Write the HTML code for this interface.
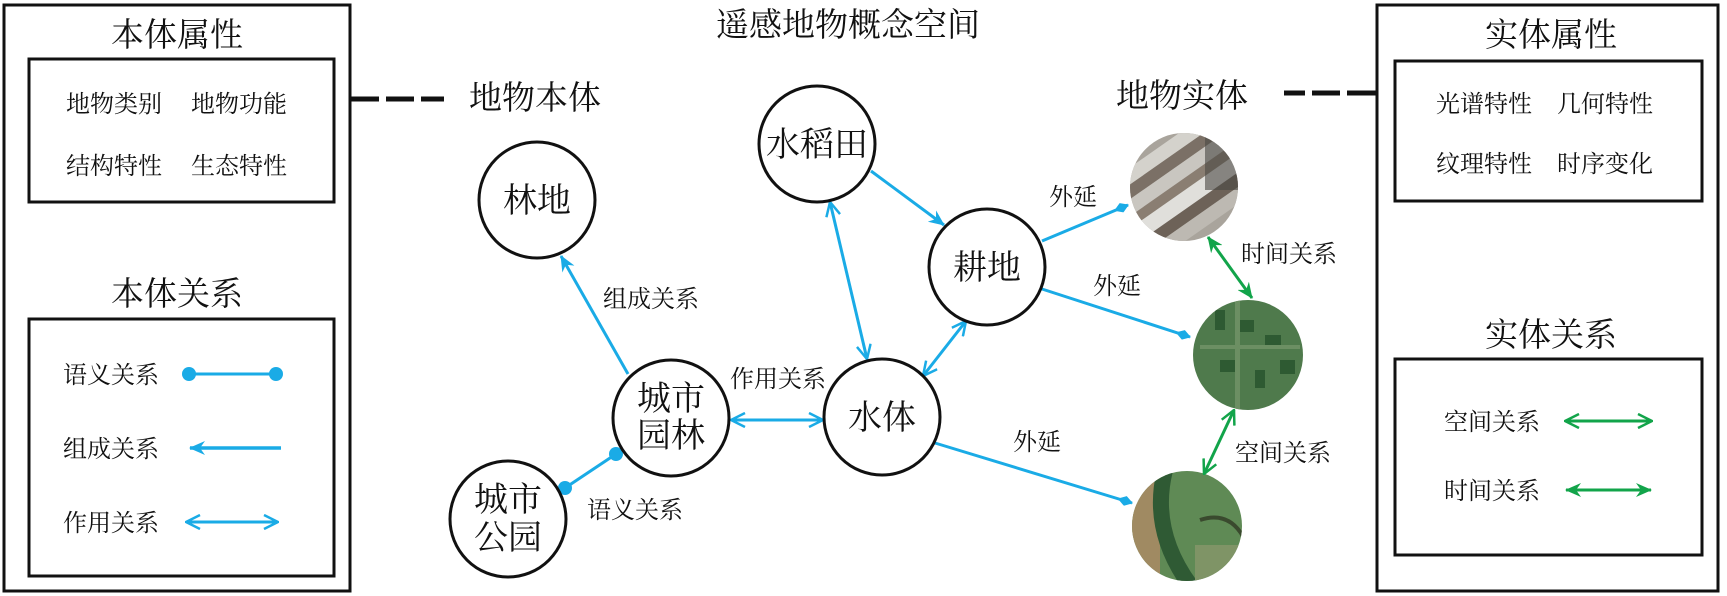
<!DOCTYPE html>
<html><head><meta charset="utf-8"><style>
html,body{margin:0;padding:0;background:#fff;}
svg{display:block;}
text{font-family:"Noto Serif CJK SC","Liberation Serif",serif;fill:#111;}
</style></head><body>
<svg width="1727" height="596" viewBox="0 0 1727 596" xmlns="http://www.w3.org/2000/svg">
<defs>
<marker id="ba" viewBox="0 0 16 14" refX="15" refY="7" markerWidth="16" markerHeight="14" markerUnits="userSpaceOnUse" orient="auto-start-reverse"><path d="M0,0 L16,7 L0,14 L5,7 Z" fill="#1aabe6"/></marker>
<marker id="bo" viewBox="0 0 16 16" refX="15" refY="8" markerWidth="16" markerHeight="16" markerUnits="userSpaceOnUse" orient="auto-start-reverse"><path d="M1,1 L15,8 L1,15" fill="none" stroke="#1aabe6" stroke-width="2.5"/></marker>
<marker id="ga" viewBox="0 0 16 14" refX="15" refY="7" markerWidth="16" markerHeight="14" markerUnits="userSpaceOnUse" orient="auto-start-reverse"><path d="M0,0 L16,7 L0,14 L5,7 Z" fill="#12a44a"/></marker>
<marker id="go" viewBox="0 0 16 16" refX="15" refY="8" markerWidth="16" markerHeight="16" markerUnits="userSpaceOnUse" orient="auto-start-reverse"><path d="M1,1 L15,8 L1,15" fill="none" stroke="#12a44a" stroke-width="2.5"/></marker>
<marker id="dm" viewBox="0 0 16 10" refX="15" refY="5" markerWidth="16" markerHeight="10" markerUnits="userSpaceOnUse" orient="auto"><path d="M0,5 L8,0 L16,5 L8,10 Z" fill="#1aabe6"/></marker>
<clipPath id="c1"><circle cx="1184" cy="187" r="54"/></clipPath>
<clipPath id="c2"><circle cx="1248" cy="355" r="55"/></clipPath>
<clipPath id="c3"><circle cx="1187" cy="526" r="55"/></clipPath>
</defs>

<rect x="4" y="5" width="346" height="586" fill="none" stroke="#111" stroke-width="3"/>
<text x="177" y="46" font-size="33" text-anchor="middle">本体属性</text>
<rect x="29" y="59" width="305" height="143" fill="none" stroke="#111" stroke-width="3"/>
<text x="66" y="112" font-size="24">地物类别</text>
<text x="191" y="112" font-size="24">地物功能</text>
<text x="66" y="174" font-size="24">结构特性</text>
<text x="191" y="174" font-size="24">生态特性</text>
<text x="177" y="305" font-size="33" text-anchor="middle">本体关系</text>
<rect x="29" y="319" width="305" height="257" fill="none" stroke="#111" stroke-width="3"/>
<text x="63" y="383" font-size="24">语义关系</text>
<line x1="189" y1="374" x2="276" y2="374" stroke="#1aabe6" stroke-width="3"/>
<circle cx="189" cy="374" r="7" fill="#1aabe6"/><circle cx="276" cy="374" r="7" fill="#1aabe6"/>
<text x="63" y="457" font-size="24">组成关系</text>
<line x1="281" y1="448" x2="190" y2="448" stroke="#1aabe6" stroke-width="3.5" marker-end="url(#ba)"/>
<text x="63" y="531" font-size="24">作用关系</text>
<line x1="186" y1="522" x2="278" y2="522" stroke="#1aabe6" stroke-width="3" marker-start="url(#bo)" marker-end="url(#bo)"/>

<path d="M350,99 H379 M386,99 H414 M421,99 H444" stroke="#111" stroke-width="5"/>
<path d="M1284,93 H1305 M1312,93 H1340 M1347,93 H1377" stroke="#111" stroke-width="5"/>

<text x="848" y="36" font-size="33" text-anchor="middle">遥感地物概念空间</text>
<text x="469" y="109" font-size="33">地物本体</text>
<text x="1116" y="107" font-size="33">地物实体</text>

<line x1="628" y1="374" x2="561" y2="256" stroke="#1aabe6" stroke-width="3" marker-end="url(#ba)"/>
<line x1="565" y1="488" x2="616" y2="454" stroke="#1aabe6" stroke-width="3"/>
<circle cx="565" cy="488" r="7" fill="#1aabe6"/><circle cx="616" cy="454" r="7" fill="#1aabe6"/>
<line x1="731" y1="420" x2="823" y2="420" stroke="#1aabe6" stroke-width="3" marker-start="url(#bo)" marker-end="url(#bo)"/>
<line x1="830" y1="202" x2="867" y2="359" stroke="#1aabe6" stroke-width="3" marker-start="url(#bo)" marker-end="url(#bo)"/>
<line x1="871" y1="171" x2="944" y2="225" stroke="#1aabe6" stroke-width="3" marker-end="url(#ba)"/>
<line x1="966" y1="321" x2="923" y2="376" stroke="#1aabe6" stroke-width="3" marker-start="url(#bo)" marker-end="url(#bo)"/>
<line x1="1042" y1="241" x2="1128" y2="205" stroke="#1aabe6" stroke-width="3" marker-end="url(#dm)"/>
<line x1="1042" y1="289" x2="1190" y2="337" stroke="#1aabe6" stroke-width="3" marker-end="url(#dm)"/>
<line x1="935" y1="443" x2="1132" y2="503" stroke="#1aabe6" stroke-width="3" marker-end="url(#dm)"/>

<text x="651" y="307" font-size="24" text-anchor="middle">组成关系</text>
<text x="778" y="387" font-size="24" text-anchor="middle">作用关系</text>
<text x="635" y="518" font-size="24" text-anchor="middle">语义关系</text>
<text x="1073" y="205" font-size="24" text-anchor="middle">外延</text>
<text x="1117" y="294" font-size="24" text-anchor="middle">外延</text>
<text x="1037" y="450" font-size="24" text-anchor="middle">外延</text>

<g fill="#fff" stroke="#111" stroke-width="3">
<circle cx="537" cy="200" r="58"/>
<circle cx="508" cy="519" r="58"/>
<circle cx="671" cy="418" r="58"/>
<circle cx="817" cy="144" r="58"/>
<circle cx="987" cy="267" r="58"/>
<circle cx="882" cy="417" r="58"/>
</g>
<g font-size="34" text-anchor="middle">
<text x="537" y="212">林地</text>
<text x="508" y="511">城市</text><text x="508" y="549">公园</text>
<text x="671" y="410">城市</text><text x="671" y="447">园林</text>
<text x="817" y="156">水稻田</text>
<text x="987" y="279">耕地</text>
<text x="882" y="429">水体</text>
</g>

<g clip-path="url(#c1)">
<rect x="1120" y="120" width="130" height="130" fill="#a9a49c"/>
<g transform="rotate(-35 1184 187)">
<rect x="1110" y="140" width="150" height="14" fill="#d4d2cc"/>
<rect x="1110" y="154" width="150" height="12" fill="#7b7066"/>
<rect x="1110" y="166" width="150" height="14" fill="#c9c6c0"/>
<rect x="1110" y="180" width="150" height="10" fill="#8a7e72"/>
<rect x="1110" y="190" width="150" height="16" fill="#e0dfdb"/>
<rect x="1110" y="206" width="150" height="12" fill="#6d6258"/>
<rect x="1110" y="218" width="150" height="14" fill="#bdb9b2"/>
</g>
<rect x="1205" y="130" width="40" height="60" fill="#4a4742" opacity="0.6"/>
</g>
<g clip-path="url(#c2)">
<rect x="1190" y="298" width="120" height="115" fill="#4f7a4c"/>
<rect x="1215" y="310" width="10" height="20" fill="#2e5a32"/>
<rect x="1240" y="320" width="14" height="12" fill="#2e5a32"/>
<rect x="1265" y="335" width="16" height="10" fill="#2e5a32"/>
<rect x="1220" y="360" width="18" height="12" fill="#2e5a32"/>
<rect x="1255" y="370" width="10" height="18" fill="#2e5a32"/>
<rect x="1280" y="360" width="15" height="14" fill="#2e5a32"/>
<rect x="1235" y="300" width="5" height="110" fill="#6c8f63"/>
<rect x="1200" y="345" width="100" height="4" fill="#6c8f63"/>
</g>
<g clip-path="url(#c3)">
<rect x="1130" y="470" width="115" height="115" fill="#5f8a55"/>
<rect x="1130" y="470" width="30" height="115" fill="#a08a62"/>
<path d="M1165,470 Q1150,530 1190,585" stroke="#2f5a34" stroke-width="16" fill="none"/>
<path d="M1200,520 Q1230,510 1245,540" stroke="#3a4a2e" stroke-width="4" fill="none"/>
<rect x="1195" y="545" width="50" height="40" fill="#7f9466"/>
</g>

<path d="M1208,237 L1252,298" stroke="#12a44a" stroke-width="3" marker-start="url(#ga)" marker-end="url(#ga)"/>
<path d="M1234,410 L1204,474" stroke="#12a44a" stroke-width="3" marker-start="url(#go)" marker-end="url(#go)"/>
<text x="1289" y="262" font-size="24" text-anchor="middle">时间关系</text>
<text x="1283" y="461" font-size="24" text-anchor="middle">空间关系</text>

<rect x="1377" y="5" width="341" height="586" fill="none" stroke="#111" stroke-width="3"/>
<text x="1551" y="46" font-size="33" text-anchor="middle">实体属性</text>
<rect x="1395" y="61" width="307" height="140" fill="none" stroke="#111" stroke-width="3"/>
<text x="1436" y="112" font-size="24">光谱特性</text>
<text x="1557" y="112" font-size="24">几何特性</text>
<text x="1436" y="172" font-size="24">纹理特性</text>
<text x="1557" y="172" font-size="24">时序变化</text>
<text x="1551" y="346" font-size="33" text-anchor="middle">实体关系</text>
<rect x="1395" y="359" width="307" height="196" fill="none" stroke="#111" stroke-width="3"/>
<text x="1444" y="430" font-size="24">空间关系</text>
<line x1="1565" y1="421" x2="1652" y2="421" stroke="#12a44a" stroke-width="3" marker-start="url(#go)" marker-end="url(#go)"/>
<text x="1444" y="499" font-size="24">时间关系</text>
<line x1="1566" y1="490" x2="1651" y2="490" stroke="#12a44a" stroke-width="3" marker-start="url(#ga)" marker-end="url(#ga)"/>
</svg>
</body></html>
